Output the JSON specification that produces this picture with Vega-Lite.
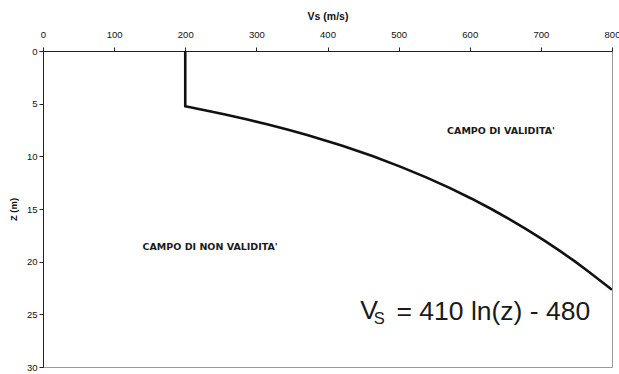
{
  "$schema": "https://vega.github.io/schema/vega-lite/v6.json",
  "width": 569,
  "height": 316,
  "autosize": "none",
  "padding": {"left": 43, "top": 51, "right": 7, "bottom": 7},
  "background": "#ffffff",
  "config": {
    "font": "Liberation Sans",
    "view": {"stroke": "#9a9a9a", "strokeWidth": 1},
    "axis": {
      "domainColor": "#222222",
      "tickColor": "#222222",
      "labelColor": "#111111",
      "titleColor": "#111111",
      "labelFont": "Liberation Sans",
      "titleFont": "Liberation Sans",
      "labelFontSize": 9.5,
      "grid": false,
      "tickSize": 4
    }
  },
  "datasets": {
    "profile": [
      {"vs": 200, "z": 0},
      {"vs": 200, "z": 5},
      {"vs": 200, "z": 5.25},
      {"vs": 218.9, "z": 5.5},
      {"vs": 254.6, "z": 6},
      {"vs": 287.4, "z": 6.5},
      {"vs": 317.8, "z": 7},
      {"vs": 346.1, "z": 7.5},
      {"vs": 372.6, "z": 8},
      {"vs": 420.9, "z": 9},
      {"vs": 464.1, "z": 10},
      {"vs": 503.1, "z": 11},
      {"vs": 538.8, "z": 12},
      {"vs": 571.6, "z": 13},
      {"vs": 602.0, "z": 14},
      {"vs": 630.3, "z": 15},
      {"vs": 656.8, "z": 16},
      {"vs": 681.6, "z": 17},
      {"vs": 705.1, "z": 18},
      {"vs": 727.2, "z": 19},
      {"vs": 748.3, "z": 20},
      {"vs": 768.2, "z": 21},
      {"vs": 787.3, "z": 22},
      {"vs": 800, "z": 22.67}
    ],
    "zones": [
      {"vs": 235, "z": 18.6, "label": "CAMPO DI NON VALIDITA'"},
      {"vs": 644, "z": 7.6, "label": "CAMPO DI VALIDITA'"}
    ],
    "equation": [
      {"vs": 446, "z": 25.45, "part": "V", "size": "big"},
      {"vs": 465, "z": 25.95, "part": "S", "size": "small"},
      {"vs": 497, "z": 25.5, "part": "= 410 ln(z) - 480", "size": "big"}
    ]
  },
  "layer": [
    {
      "data": {"name": "profile"},
      "mark": {"type": "line", "color": "#111111", "strokeWidth": 2.6, "strokeJoin": "miter", "clip": true},
      "encoding": {
        "x": {
          "field": "vs",
          "type": "quantitative",
          "scale": {"domain": [0, 800], "nice": false, "zero": false},
          "axis": {
            "orient": "top",
            "title": "Vs (m/s)",
            "titleFontWeight": "bold",
            "titleFontSize": 10.5,
            "values": [0, 100, 200, 300, 400, 500, 600, 700, 800],
            "labelPadding": 8,
            "titlePadding": 8,
            "labelFlush": false
          }
        },
        "y": {
          "field": "z",
          "type": "quantitative",
          "scale": {"domain": [0, 30], "nice": false, "reverse": true},
          "axis": {
            "title": "Z (m)",
            "titleFontWeight": "bold",
            "titleFontSize": 9.5,
            "values": [0, 5, 10, 15, 20, 25, 30],
            "labelPadding": 2,
            "titlePadding": 8,
            "labelFlush": false
          }
        },
        "order": {"field": "z", "type": "quantitative"}
      }
    },
    {
      "data": {"name": "zones"},
      "mark": {"type": "text", "font": "DejaVu Sans", "fontSize": 9.5, "fontWeight": "bold", "color": "#1a1a1a", "align": "center", "baseline": "middle"},
      "encoding": {
        "x": {"field": "vs", "type": "quantitative"},
        "y": {"field": "z", "type": "quantitative"},
        "text": {"field": "label"}
      }
    },
    {
      "data": {"name": "equation"},
      "mark": {"type": "text", "color": "#1a1a1a", "align": "left", "baseline": "alphabetic"},
      "encoding": {
        "x": {"field": "vs", "type": "quantitative"},
        "y": {"field": "z", "type": "quantitative"},
        "text": {"field": "part"},
        "size": {
          "field": "size",
          "type": "nominal",
          "scale": {"domain": ["big", "small"], "range": [26.5, 16.5]},
          "legend": null
        }
      }
    }
  ]
}
